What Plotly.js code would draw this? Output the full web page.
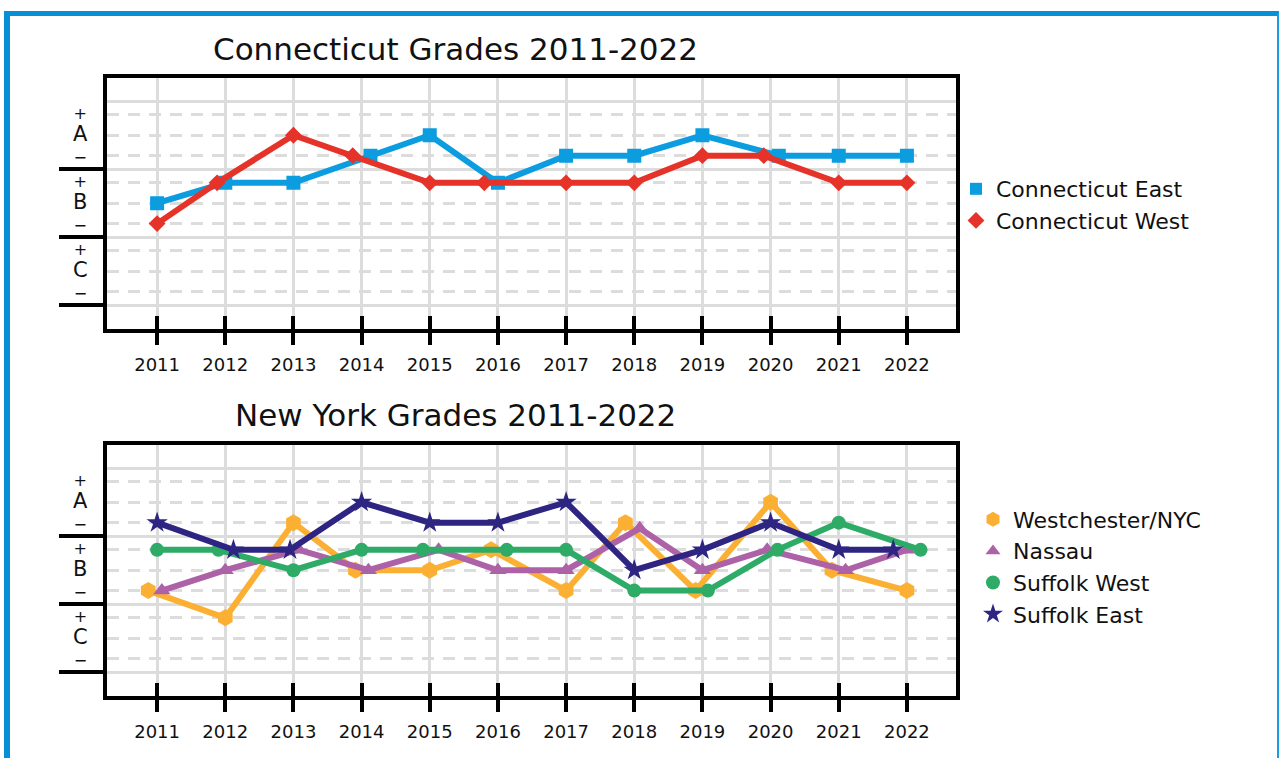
<!DOCTYPE html>
<html>
<head>
<meta charset="utf-8">
<script src="https://cdn.plot.ly/plotly-3.0.1.min.js"></script>
<style>
  html, body { margin: 0; padding: 0; background: #fff; }
  #wrap { position: relative; width: 1279px; height: 758px; overflow: hidden; }
  #chart { position: absolute; left: 0; top: 0; width: 1279px; height: 758px; }
  #frame { position: absolute; left: 4px; top: 11px; width: 1275px; height: 760px; box-sizing: border-box;
           border-left: 6px solid #0790d6; border-top: 5px solid #0790d6; border-right: 2px solid #1a9ee3;
           pointer-events: none; }
</style>
</head>
<body>
<div id="wrap">
  <div id="chart"></div>
  <div id="frame"></div>
</div>
<script>
// ---------- data ----------
const years = [2011, 2012, 2013, 2014, 2015, 2016, 2017, 2018, 2019, 2020, 2021, 2022];
const gradeLetters = ['A', 'B', 'C'];
const gradeCenters = [7.5, 4.5, 1.5];      // letter grade (mid of band)
const gradePlus = [8.4, 5.4, 2.4];         // "+" level
const gradeMinus = [6.6, 3.6, 0.6];        // "-" level
const bandEdges = [0, 3, 6, 9];

const topTitle = 'Connecticut Grades 2011-2022';
const bottomTitle = 'New York Grades 2011-2022';

const ctNames = ['Connecticut East', 'Connecticut West'];
const ctEast = [4.5, 5.4, 5.4, 6.6, 7.5, 5.4, 6.6, 6.6, 7.5, 6.6, 6.6, 6.6];
const ctEastDx = [0, 0, 0, 0.13, 0, 0, 0, 0, 0, 0.12, 0, 0];
const ctWest = [3.6, 5.4, 7.5, 6.6, 5.4, 5.4, 5.4, 5.4, 6.6, 6.6, 5.4, 5.4];
const ctWestDx = [0, -0.12, 0, -0.13, 0, -0.2, 0, 0, 0, -0.1, 0, 0];

const nyNames = ['Westchester/NYC', 'Nassau', 'Suffolk West', 'Suffolk East'];
const westchester = [3.6, 2.4, 6.6, 4.5, 4.5, 5.4, 3.6, 6.6, 3.6, 7.5, 4.5, 3.6];
const westchesterDx = [-0.13, 0, 0, -0.09, 0, -0.1, 0, -0.13, -0.1, 0, -0.1, 0];
const nassau = [3.6, 4.5, 5.4, 4.5, 5.4, 4.5, 4.5, 6.35, 4.5, 5.4, 4.5, 5.4];
const nassauDx = [0.07, 0, 0.08, 0.1, 0.13, 0, 0, 0.08, 0, -0.05, 0.1, 0];
const suffolkWest = [5.4, 5.4, 4.5, 5.4, 5.4, 5.4, 5.4, 3.6, 3.6, 5.4, 6.6, 5.4];
const suffolkWestDx = [0, -0.1, 0, 0, -0.1, 0.13, 0, 0, 0.08, 0.1, 0, 0.2];
const suffolkEast = [6.6, 5.4, 5.4, 7.5, 6.6, 6.6, 7.5, 4.5, 5.4, 6.6, 5.4, 5.4];
const suffolkEastDx = [0, 0.12, -0.05, 0, 0, 0, 0, 0, 0, 0, 0, -0.2];

// ---------- styles ----------
const FONT = '"DejaVu Sans", "Noto Sans", sans-serif';
const GRID = '#dcdcdc';
const ctStyles = [
  { color: '#0b9de0', symbol: 'square', size: 14, lsize: 12 },
  { color: '#e5332a', symbol: 'diamond', size: 13, lsize: 13 }
];
const nyStyles = [
  { color: '#fbb034', symbol: 'hexagon', size: 17, lsize: 15 },
  { color: '#ad62a8', symbol: 'triangle-up', size: 15, lsize: 13 },
  { color: '#2eab67', symbol: 'circle', size: 14, lsize: 14 },
  { color: '#2e2583', symbol: 'star', size: 16, lsize: 15 }
];

const shift = (dx) => years.map((y, i) => y + dx[i]);
const traces = [];
function addSeries(name, vals, dx, st, xa, ya, legendId) {
  traces.push({
    type: 'scatter', mode: 'lines+markers', name: name,
    x: shift(dx), y: vals, xaxis: xa, yaxis: ya,
    line: { color: st.color, width: 6 },
    marker: { color: st.color, symbol: st.symbol, size: st.size },
    showlegend: false, hoverinfo: 'x+y+name'
  });
  traces.push({
    type: 'scatter', mode: 'markers', name: name,
    x: [null], y: [null], xaxis: xa, yaxis: ya,
    marker: { color: st.color, symbol: st.symbol, size: st.lsize },
    showlegend: true, legend: legendId
  });
}
addSeries(ctNames[0], ctEast, ctEastDx, ctStyles[0], 'x', 'y', 'legend');
addSeries(ctNames[1], ctWest, ctWestDx, ctStyles[1], 'x', 'y', 'legend');
addSeries(nyNames[0], westchester, westchesterDx, nyStyles[0], 'x2', 'y2', 'legend2');
addSeries(nyNames[1], nassau, nassauDx, nyStyles[1], 'x2', 'y2', 'legend2');
addSeries(nyNames[2], suffolkWest, suffolkWestDx, nyStyles[2], 'x2', 'y2', 'legend2');
addSeries(nyNames[3], suffolkEast, suffolkEastDx, nyStyles[3], 'x2', 'y2', 'legend2');
// dummy traces to realise the overlay tick axes
traces.push({ type: 'scatter', x: [null], y: [null], xaxis: 'x3', yaxis: 'y3', showlegend: false, hoverinfo: 'skip' });
traces.push({ type: 'scatter', x: [null], y: [null], xaxis: 'x4', yaxis: 'y4', showlegend: false, hoverinfo: 'skip' });

// ---------- layout ----------
const W = 1279, H = 758;
const XR = [2010.265, 2022.72];
const YR = [-1.03, 10.05];
const xDom = [107 / W, 956 / W];
const yDomTop = [1 - 328.5 / H, 1 - 77.5 / H];
const yDomBot = [1 - 695.5 / H, 1 - 444.5 / H];
const dashedLevels = gradePlus.concat(gradeCenters, gradeMinus);

function mainX(anchor) {
  return {
    domain: xDom, anchor: anchor, range: XR, tickmode: 'array',
    tickvals: years, ticktext: years.map(String),
    ticks: 'outside', ticklen: 12, tickwidth: 4, tickcolor: '#000',
    ticklabelstandoff: 5,
    tickfont: { family: FONT, size: 18, color: '#111' },
    showline: true, linewidth: 4, linecolor: '#000', mirror: true,
    showgrid: true, gridcolor: GRID, gridwidth: 3, zeroline: false, fixedrange: true
  };
}
function mainY(anchor, dom) {
  return {
    domain: dom, anchor: anchor, range: YR, tickmode: 'array', tickvals: bandEdges,
    showticklabels: false, ticks: '',
    showline: true, linewidth: 4, linecolor: '#000', mirror: true,
    showgrid: true, gridcolor: GRID, gridwidth: 3, zeroline: false, fixedrange: true,
    minor: { tickmode: 'array', tickvals: dashedLevels, showgrid: true, gridcolor: GRID, gridwidth: 3, griddash: '12px,9px', ticks: '' }
  };
}
function overX(over, anchor) {
  return {
    overlaying: over, anchor: anchor, range: XR, tickmode: 'array', tickvals: years,
    ticks: 'inside', ticklen: 13, tickwidth: 4, tickcolor: '#000',
    showticklabels: false, showgrid: false, showline: false, zeroline: false, fixedrange: true
  };
}
function overY(over, anchor) {
  return {
    overlaying: over, anchor: anchor, range: YR, tickmode: 'array', tickvals: bandEdges.slice(0, 3),
    ticks: 'outside', ticklen: 47, tickwidth: 4, tickcolor: '#000',
    showticklabels: false, showgrid: false, showline: false, zeroline: false, fixedrange: true
  };
}

const annotations = [];
function titleAnn(text, ypx) {
  annotations.push({ text: text, xref: 'paper', yref: 'paper', x: 455 / W, y: 1 - ypx / H,
    xanchor: 'center', yanchor: 'middle', showarrow: false,
    font: { family: FONT, size: 31, color: '#111' } });
}
titleAnn(topTitle, 49);
titleAnn(bottomTitle, 415);
function gradeAnns(yref) {
  gradeLetters.forEach((g, i) => {
    const txt = '<span style="font-size:16px">+</span><br>' +
                '<span style="font-size:21px">' + g + '</span><br>' +
                '<span style="font-size:16px">\u2212</span>';
    annotations.push({ text: txt, xref: 'paper', yref: yref, x: 80 / W, y: gradeCenters[i],
      xanchor: 'center', yanchor: 'middle', showarrow: false, align: 'center', borderpad: 0,
      font: { family: FONT, size: 17, color: '#111' } });
  });
}
gradeAnns('y');
gradeAnns('y2');

const legendBase = {
  font: { family: FONT, size: 22, color: '#111' }, bgcolor: 'rgba(0,0,0,0)', borderwidth: 0,
  xanchor: 'left', yanchor: 'middle', itemwidth: 30, tracegroupgap: 0, itemclick: false, itemdoubleclick: false
};

const layout = {
  width: W, height: H, margin: { l: 0, r: 0, t: 0, b: 0 },
  paper_bgcolor: '#fff', plot_bgcolor: '#fff',
  font: { family: FONT, color: '#111' },
  showlegend: true, hovermode: 'closest',
  xaxis: mainX('y'), yaxis: mainY('x', yDomTop),
  xaxis2: mainX('y2'), yaxis2: mainY('x2', yDomBot),
  xaxis3: overX('x', 'y3'), yaxis3: overY('y', 'x3'),
  xaxis4: overX('x2', 'y4'), yaxis4: overY('y2', 'x4'),
  legend: Object.assign({}, legendBase, { x: 956 / W, y: 1 - 205 / H }),
  legend2: Object.assign({}, legendBase, { x: 973 / W, y: 1 - 567 / H }),
  annotations: annotations
};

Plotly.newPlot('chart', traces, layout, { displayModeBar: false, staticPlot: false });
</script>
</body>
</html>
